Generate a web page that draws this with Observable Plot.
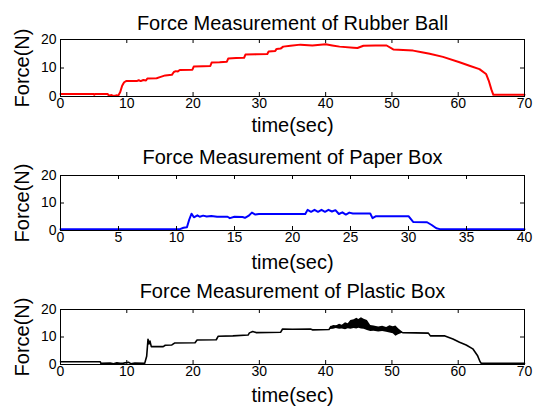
<!DOCTYPE html>
<html><head><meta charset="utf-8">
<script src="https://cdn.jsdelivr.net/npm/d3@7"></script>
<script src="https://cdn.jsdelivr.net/npm/@observablehq/plot@0.6"></script>
<style>body{margin:0;background:#fff;} svg{display:block;}</style>
</head><body><div id="chart"></div>
<script>
const yTicks = [0, 10, 20];
const xTicks70 = [0, 10, 20, 30, 40, 50, 60, 70];
const xTicks40 = [0, 5, 10, 15, 20, 25, 30, 35, 40];

const titles = ["Force Measurement of Rubber Ball", "Force Measurement of Paper Box", "Force Measurement of Plastic Box"];
const xLabel = "time(sec)";
const yLabel = "Force(N)";

const rubberT = [0, 5.0, 5.1, 5.2, 7.1, 7.3, 7.7, 8.0, 8.4, 8.7, 9.0, 9.3, 9.6, 9.9, 11.5, 11.8, 12.1, 12.5, 12.9, 13.1, 14.5, 15.0, 15.8, 16.8, 17.1, 17.4, 17.7, 18.0, 19.9, 20.1, 21.5, 22.6, 22.8, 24.0, 25.1, 25.3, 26.5, 27.7, 27.9, 29.5, 31.2, 31.4, 32.4, 32.6, 33.2, 33.6, 34.7, 36.2, 38.0, 40.0, 41.0, 42.1, 44.2, 44.8, 45.7, 47.5, 49.2, 50.2, 53.2, 54.5, 55.7, 57.7, 60.2, 61.7, 63.2, 64.2, 64.6, 65.0, 65.3, 70];
const rubberF = [0.9, 0.9, 0.6, 0.9, 0.9, 0.3, 0.5, 0.2, 0.4, 0.3, 1.5, 3.8, 5.0, 5.4, 5.4, 5.7, 5.4, 5.8, 5.6, 6.3, 6.4, 6.8, 7.4, 7.6, 8.6, 8.9, 8.8, 9.3, 9.4, 10.5, 10.6, 10.7, 11.9, 12.0, 12.2, 13.3, 13.5, 13.6, 14.7, 14.8, 14.9, 15.8, 16.0, 16.7, 16.8, 17.5, 17.8, 18.2, 17.9, 18.3, 17.9, 17.5, 17.1, 17.0, 17.8, 17.9, 17.9, 16.5, 16.1, 15.5, 15.0, 13.9, 12.0, 10.8, 9.6, 7.9, 5.6, 2.5, 0.6, 0.6];

const paperT = [0, 10.3, 10.6, 10.9, 11.1, 11.3, 11.5, 11.8, 12.0, 12.3, 12.6, 13.0, 13.5, 14.4, 14.6, 15.0, 15.7, 15.9, 16.2, 16.5, 16.8, 17.1, 21.1, 21.3, 21.6, 21.9, 22.2, 22.5, 22.8, 23.1, 23.4, 23.7, 24.0, 24.3, 24.6, 24.9, 25.2, 26.7, 26.9, 27.2, 30.0, 30.4, 31.6, 32.0, 32.4, 32.7, 40];
const paperF = [0.5, 0.5, 1.0, 1.2, 4.0, 6.1, 4.8, 5.5, 5.0, 5.4, 5.1, 5.3, 5.0, 5.0, 4.5, 5.0, 4.9, 4.6, 5.3, 6.5, 5.8, 6.0, 6.0, 7.5, 6.8, 7.5, 6.8, 7.5, 6.8, 7.5, 6.9, 7.4, 6.0, 6.6, 5.8, 6.5, 6.2, 6.2, 4.5, 5.2, 5.2, 3.1, 3.0, 2.0, 0.8, 0.5, 0.5];

const plasticT = [0, 6.0, 6.1, 7.5, 8.0, 8.5, 9.0, 9.5, 10.3, 10.6, 11.2, 12.7, 13.0, 13.2, 13.35, 13.5, 13.7, 15.5, 15.8, 16.8, 17.2, 20.3, 20.6, 23.5, 23.8, 26.0, 28.3, 28.5, 29.0, 29.5, 33.2, 33.5, 35.0, 37.7, 38.0, 40.5, 40.8, 43.0, 45.0, 46.6, 50.0, 51.6, 55.5, 55.8, 58.0, 59.2, 60.2, 61.2, 62.2, 62.9, 63.3, 63.5, 70];
const plasticF = [1.0, 1.0, 0.4, 0.5, 0.3, 0.6, 0.4, 0.5, 0.8, 0.3, 0.5, 0.4, 3.0, 9.2, 7.5, 8.5, 6.5, 6.5, 7.0, 7.1, 7.8, 7.9, 8.9, 9.0, 10.3, 10.4, 10.7, 11.5, 12.0, 11.6, 11.7, 12.9, 12.8, 12.9, 12.6, 12.7, 13.8, 14.2, 15.0, 13.5, 12.6, 11.6, 11.4, 10.4, 10.4, 9.3, 8.1, 7.1, 5.7, 3.3, 1.0, 0.4, 0.4];

const bandT = [40.7, 41.2, 41.6, 42.1, 42.5, 43.0, 43.4, 43.8, 44.3, 44.7, 45.0, 45.4, 45.8, 46.3, 46.8, 47.3, 48.0, 48.6, 49.2, 49.7, 50.2, 50.6, 51.0, 51.6];
const bandLo = [12.7, 12.8, 13.1, 12.8, 12.9, 12.6, 13.0, 12.8, 13.1, 12.9, 13.2, 12.9, 12.8, 12.4, 12.0, 12.1, 11.8, 12.0, 11.7, 11.5, 11.2, 10.3, 10.8, 11.4];
const bandHi = [13.2, 14.2, 14.0, 14.6, 14.3, 15.2, 14.8, 16.0, 16.3, 16.8, 16.4, 17.0, 16.5, 16.0, 14.2, 14.0, 13.6, 13.9, 13.5, 14.1, 13.7, 14.0, 13.0, 11.8];

const W = 533, ML = 60, MR = 9;
const font = "'Liberation Sans', Arial, Helvetica, sans-serif";

function panel({title, t, f, color, sw, xMax, xTicks, height, mt, mb, titleDy, labelDy, extra = []}) {
  const data = t.map((d, i) => ({t: d, f: f[i]}));
  const frameW = W - ML - MR, frameH = height - mt - mb;
  return Plot.plot({
    width: W, height, marginLeft: ML, marginRight: MR, marginTop: mt, marginBottom: mb,
    style: {fontFamily: font, fontSize: "14px", background: "white", color: "black", overflow: "visible"},
    x: {domain: [0, xMax]},
    y: {domain: [0, 20]},
    marks: [
      ...extra,
      Plot.line(data, {x: "t", y: "f", stroke: color, strokeWidth: sw}),
      Plot.frame({stroke: "black"}),
      Plot.tickX(xTicks, {x: d => d, insetTop: frameH - 4}),
      Plot.tickX(xTicks, {x: d => d, insetBottom: frameH - 4}),
      Plot.tickY(yTicks, {y: d => d, insetRight: frameW - 4}),
      Plot.tickY(yTicks, {y: d => d, insetLeft: frameW - 4}),
      Plot.axisX(xTicks, {tickSize: 0, tickPadding: 2, label: null}),
      Plot.axisY(yTicks, {tickSize: 0, tickPadding: 4, label: null}),
      Plot.text([title], {text: d => d, frameAnchor: "top", dy: titleDy, lineAnchor: "bottom", fontSize: 20}),
      Plot.text([xLabel], {text: d => d, frameAnchor: "bottom", dy: labelDy, lineAnchor: "bottom", fontSize: 20}),
      Plot.text([yLabel], {text: d => d, frameAnchor: "left", dx: -32, rotate: -90, textAnchor: "middle", lineAnchor: "bottom", fontSize: 20})
    ]
  });
}

const band = bandT.map((d, i) => ({t: d, lo: bandLo[i], hi: bandHi[i]}));
const root = document.getElementById("chart");
root.append(panel({title: titles[0], t: rubberT, f: rubberF, color: "#ff0000", sw: 2, xMax: 70, xTicks: xTicks70, height: 135, mt: 39, mb: 39, titleDy: -10, labelDy: 35}));
root.append(panel({title: titles[1], t: paperT, f: paperF, color: "#0000ff", sw: 2, xMax: 40, xTicks: xTicks40, height: 135, mt: 40, mb: 40, titleDy: -12, labelDy: 38}));
root.append(panel({title: titles[2], t: plasticT, f: plasticF, color: "#000000", sw: 1.6, xMax: 70, xTicks: xTicks70, height: 137, mt: 39, mb: 43, titleDy: -12, labelDy: 37,
  extra: [Plot.areaY(band, {x: "t", y1: "lo", y2: "hi", fill: "black"})]}));
</script></body></html>
